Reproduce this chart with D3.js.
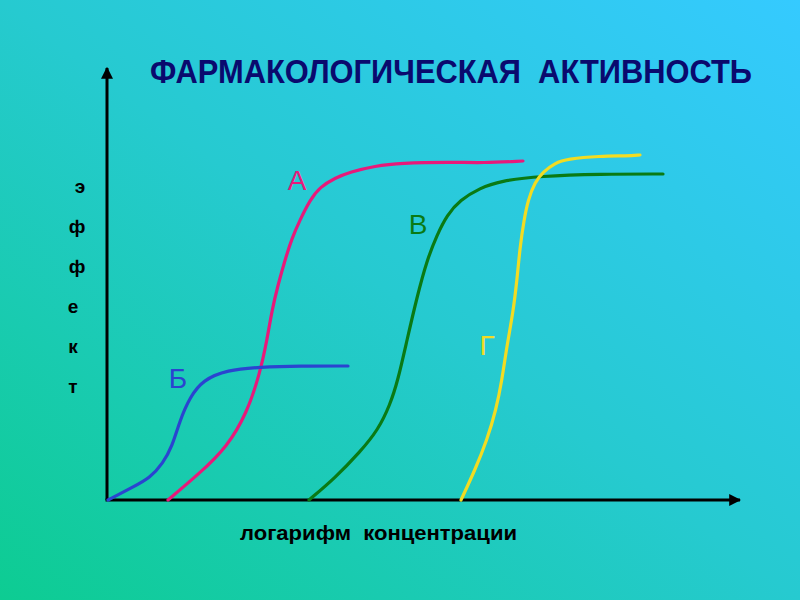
<!DOCTYPE html>
<html>
<head>
<meta charset="utf-8">
<script src="https://cdn.jsdelivr.net/npm/d3@7"></script>
<style>
  html, body { margin: 0; padding: 0; }
  svg { display: block; }
</style>
</head>
<body>
<div id="container"></div>
<script>
const width = 800;
const height = 600;

// curve names
const names = ['А', 'Б', 'В', 'Г'];

// log concentration (x) / effect (y)
const curveA = [[0.61,0],[0.93,6.75],[1.20,13.25],[1.40,21.75],[1.53,31.75],[1.60,40],[1.65,47.5],[1.71,53.75],[1.78,60],[1.85,65.5],[1.93,70],[2.03,75],[2.13,78.25],[2.28,80.5],[2.43,82],[2.68,83.5],[2.93,84.25],[3.43,84.5],[3.76,84.25],[4.16,84.75]];
const curveB = [[0.01,0],[0.26,3.25],[0.43,5.5],[0.56,9.25],[0.65,13.25],[0.73,20],[0.83,25.75],[0.96,30],[1.20,32.5],[1.53,33.25],[1.93,33.5],[2.41,33.5]];
const curveV = [[2.02,0],[2.28,5.5],[2.53,12],[2.71,17.5],[2.83,23.75],[2.91,30],[3.00,40],[3.10,50.75],[3.20,60],[3.30,66.25],[3.40,71.25],[3.53,75],[3.73,78],[3.93,79.75],[4.33,81],[4.93,81.5],[5.56,81.5]];
const curveG = [[3.54,0],[3.68,7.5],[3.80,15],[3.89,22.5],[3.95,30],[4.00,38.75],[4.06,46.75],[4.10,55],[4.13,63.25],[4.17,70],[4.21,75],[4.28,79.5],[4.36,82],[4.48,84.25],[4.60,85.25],[4.93,86],[5.20,86],[5.33,86.25]];

const yLetters = ['э', 'ф', 'ф', 'е', 'к', 'т'];

const series = [
    { name: names[0], points: curveA, color: '#e8197a', label: [1.90, 80] },
    { name: names[1], points: curveB, color: '#2a44d0', label: [0.71, 30.5] },
    { name: names[2], points: curveV, color: '#0a7a14', label: [3.11, 69] },
    { name: names[3], points: curveG, color: '#f2dc22', label: [3.80, 38.75] }
];

let x = d3.scaleLinear().domain([0, 6.33]).range([107, 740]);
let y = d3.scaleLinear().domain([0, 108]).range([500, 68]);

let svg = d3.select('#container').append('svg')
    .attr('width', width)
    .attr('height', height);

let defs = svg.append('defs');
let grad = defs.append('linearGradient')
    .attr('id', 'bg')
    .attr('x1', '0%').attr('y1', '100%')
    .attr('x2', '100%').attr('y2', '0%');
grad.append('stop').attr('offset', '0%').attr('stop-color', '#0dcc92');
grad.append('stop').attr('offset', '50%').attr('stop-color', '#26cad0');
grad.append('stop').attr('offset', '100%').attr('stop-color', '#35caff');

defs.append('marker')
    .attr('id', 'arrow')
    .attr('viewBox', '0 0 10 10')
    .attr('refX', 9).attr('refY', 5)
    .attr('markerWidth', 4).attr('markerHeight', 4)
    .attr('markerUnits', 'strokeWidth')
    .attr('orient', 'auto')
    .append('path')
    .attr('d', 'M0,0 L10,5 L0,10 Z')
    .attr('fill', '#000');

svg.append('rect')
    .attr('width', width).attr('height', height)
    .attr('fill', 'url(#bg)');

// title (condensed look by squeezing a taller font)
svg.append('text')
    .attr('x', 150).attr('y', 83)
    .attr('textLength', 602)
    .attr('lengthAdjust', 'spacingAndGlyphs')
    .attr('font-family', '"Liberation Sans Narrow", "Arial Narrow", "Liberation Sans", Arial, sans-serif')
    .attr('font-weight', 'bold')
    .attr('font-size', 33)
    .attr('fill', '#0a0a6e')
    .style('white-space', 'pre')
    .text('ФАРМАКОЛОГИЧЕСКАЯ  АКТИВНОСТЬ');

// axes
svg.append('line')
    .attr('x1', x(0)).attr('y1', y(0))
    .attr('x2', x(0)).attr('y2', y(108))
    .attr('stroke', '#000').attr('stroke-width', 3)
    .attr('marker-end', 'url(#arrow)');
svg.append('line')
    .attr('x1', x(0) - 1.5).attr('y1', y(0))
    .attr('x2', x(6.33)).attr('y2', y(0))
    .attr('stroke', '#000').attr('stroke-width', 3)
    .attr('marker-end', 'url(#arrow)');

// axis titles
svg.append('g')
    .selectAll('text')
    .data(yLetters)
    .join('text')
    .attr('x', (d, i) => i == 0 ? 80 : (i < 3 ? 77 : 73))
    .attr('y', (d, i) => 193 + i * 40)
    .attr('text-anchor', 'middle')
    .attr('font-family', '"Liberation Sans", Arial, sans-serif')
    .attr('font-weight', 'bold')
    .attr('font-size', 19)
    .attr('fill', '#000')
    .text(d => d);

svg.append('text')
    .attr('x', 240).attr('y', 540)
    .attr('textLength', 277)
    .attr('lengthAdjust', 'spacingAndGlyphs')
    .attr('font-family', '"Liberation Sans", Arial, sans-serif')
    .attr('font-weight', 'bold')
    .attr('font-size', 20)
    .attr('fill', '#000')
    .style('white-space', 'pre')
    .text('логарифм  концентрации');

// curves, smoothed through the read points
let line = d3.line()
    .x(d => x(d[0]))
    .y(d => y(d[1]))
    .curve(d3.curveBasis);

svg.append('g')
    .selectAll('path')
    .data(series)
    .join('path')
    .attr('d', d => line(d.points))
    .attr('fill', 'none')
    .attr('stroke', d => d.color)
    .attr('stroke-width', 3.2)
    .attr('stroke-linecap', 'round');

svg.append('g')
    .selectAll('text')
    .data(series)
    .join('text')
    .attr('x', d => x(d.label[0]))
    .attr('y', d => y(d.label[1]) + 10)
    .attr('text-anchor', 'middle')
    .attr('font-family', '"Liberation Sans", Arial, sans-serif')
    .attr('font-size', 28)
    .attr('fill', d => d.color)
    .text(d => d.name);
</script>
</body>
</html>
